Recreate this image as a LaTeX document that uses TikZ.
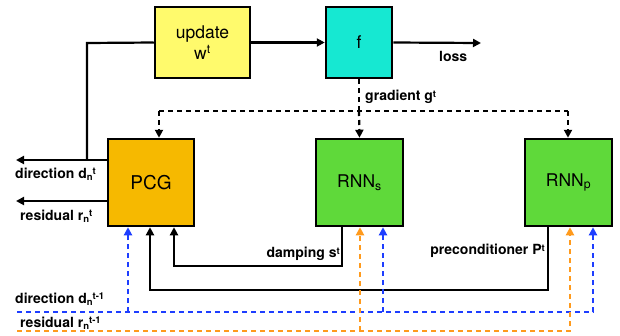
\documentclass[tikz,border=0pt]{standalone}
\usepackage{fontspec}
\setmainfont{TeX Gyre Heros}
\usetikzlibrary{arrows.meta,calc}
\definecolor{cupd}{HTML}{FFFA6C}
\definecolor{cf}{HTML}{16E8D2}
\definecolor{cpcg}{HTML}{F6B900}
\definecolor{crnn}{HTML}{5FD93A}
\definecolor{cblue}{HTML}{1E3EFF}
\definecolor{corange}{HTML}{FF9A1C}
\newcommand{\upsc}[1]{\raisebox{0.45ex}{\fontsize{9.5}{10}\selectfont #1}}
\newcommand{\dnsc}[1]{\raisebox{-0.25ex}{\fontsize{9.5}{10}\selectfont #1}}
\tikzset{
  box/.style={draw=black, line width=2.5pt, inner sep=0pt, font=\fontsize{17.5}{21}\selectfont, align=center},
  lbl/.style={font=\bfseries\fontsize{14}{16}\selectfont, inner sep=0pt},
  conn/.style={line width=2.2pt, -{Triangle[length=8pt,width=8pt]}},
  plain/.style={line width=2.2pt},
  dsh/.style={line width=2.2pt, dash pattern=on 5pt off 4pt},
}
\begin{document}
\begin{tikzpicture}[x=1pt,y=-1pt]
\useasboundingbox (0,0) rectangle (620,335);
% boxes
\node[box, fill=cupd, minimum width=95pt, minimum height=71pt] (upd) at (202.5,42.5) {update\\w\textsuperscript{t}};
\node[box, fill=cf, minimum width=66pt, minimum height=71pt] (f) at (359,42.5) {f};
\node[box, fill=cpcg, minimum width=86pt, minimum height=87pt, font=\fontsize{19}{21}\selectfont] (pcg) at (151,182.5) {PCG};
\node[box, fill=crnn, minimum width=87pt, minimum height=87pt] (rnns) at (359.5,182.5) {RNN\textsubscript{s}};
\node[box, fill=crnn, minimum width=87pt, minimum height=87pt] (rnnp) at (568.5,182.5) {RNN\textsubscript{p}};
% coordinates
\coordinate (lossend) at (481,43);
\coordinate (jleft) at (87,43);
\coordinate (dirend) at (16,160);
\coordinate (resend) at (16,201);
\coordinate (gj) at (359,111);
\coordinate (gl) at (159,111);
\coordinate (gr) at (568,111);
\coordinate (dampx) at (342,266);
\coordinate (dampin) at (174,266);
\coordinate (precx) at (548,290);
\coordinate (precin) at (150,290);
\coordinate (bstart) at (17,312);
\coordinate (bcorner) at (593,312);
\coordinate (bpcg) at (128,312);
\coordinate (brnns) at (383,312);
\coordinate (ostart) at (17,331);
\coordinate (ocorner) at (570,331);
\coordinate (ornns) at (360,331);
% top flow
\draw[conn] (upd) -- (f);
\draw[conn] (f.east) -- (lossend);
\draw[plain] (upd.west) -- (jleft) -- (jleft |- dirend);
\draw[conn] (pcg.west |- dirend) -- (dirend);
\draw[conn] (pcg.west |- resend) -- (resend);
% gradient
\draw[dsh] (f.south) -- (gj);
\draw[dsh] (gl) -- (gr);
\draw[dsh, -{Triangle[length=8pt,width=8pt]}] (gj) -- (rnns.north);
\draw[dsh, -{Triangle[length=8pt,width=8pt]}] (gl) -- (gl |- pcg.north);
\draw[dsh, -{Triangle[length=8pt,width=8pt]}] (gr) -- (gr |- rnnp.north);
% damping and preconditioner
\draw[conn] (dampx |- rnns.south) -- (dampx) -- (dampin) -- (dampin |- pcg.south);
\draw[conn] (precx |- rnnp.south) -- (precx) -- (precin) -- (precin |- pcg.south);
% blue dashed
\draw[dsh, draw=cblue, -{Triangle[length=8pt,width=8pt]}] (bstart) -- (bcorner) -- (bcorner |- rnnp.south);
\draw[dsh, draw=cblue, -{Triangle[length=8pt,width=8pt]}] (bpcg) -- (bpcg |- pcg.south);
\draw[dsh, draw=cblue, -{Triangle[length=8pt,width=8pt]}] (brnns) -- (brnns |- rnns.south);
% orange dashed
\draw[dsh, draw=corange, -{Triangle[length=8pt,width=8pt]}] (ostart) -- (ocorner) -- (ocorner |- rnnp.south);
\draw[dsh, draw=corange, -{Triangle[length=8pt,width=8pt]}] (ornns) -- (ornns |- rnns.south);
% labels
\node[lbl, anchor=west] (lloss) at (439,56) {loss};
\node[lbl, anchor=west] (lgrad) at (365,97) {gradient g\upsc{t}};
\node[lbl, anchor=west] (ldir) at (15,174) {direction d\dnsc{n}\upsc{t}};
\node[lbl, anchor=west] (lres) at (20,216) {residual r\dnsc{n}\upsc{t}};
\node[lbl, anchor=east] (ldamp) at (340,254) {damping s\upsc{t}};
\node[lbl, anchor=east] (lprec) at (545,251) {preconditioner P\upsc{t}};
\node[lbl, anchor=west] (ldir1) at (15,299) {direction d\dnsc{n}\upsc{t-1}};
\node[lbl, anchor=west] (lres1) at (20,323) {residual r\dnsc{n}\upsc{t-1}};
\end{tikzpicture}
\end{document}
